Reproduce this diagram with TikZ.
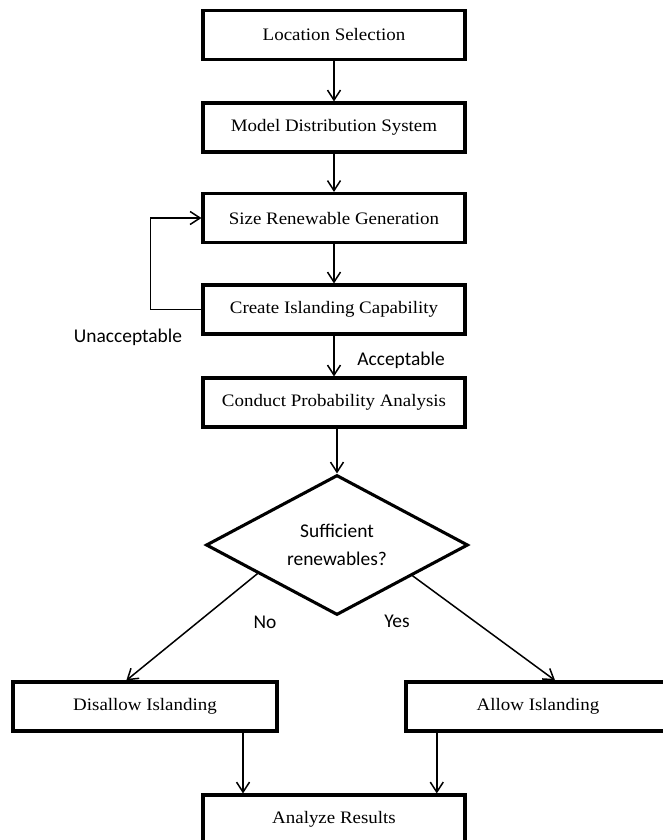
\documentclass[tikz,border=0pt]{standalone}
\usepackage{fontspec}
\setmainfont{Liberation Serif}[FakeStretch=1.08]
\newfontfamily\lblfont{Carlito}
\usetikzlibrary{arrows.meta,shapes.geometric,calc}
\begin{document}
\begin{tikzpicture}[x=1bp,y=-1bp,
  stepbox/.style={draw,line width=3.1bp,minimum width=262bp,minimum height=49bp,inner sep=0pt,
    font=\fontsize{17.6}{20}\selectfont},
  sidebox/.style={stepbox,minimum width=264bp},
  decide/.style={draw,diamond,line width=3.1bp,shape aspect=1.87,minimum width=262bp,minimum height=140bp,
    inner sep=0pt,align=center,font=\lblfont\fontsize{19.5}{28}\selectfont},
  arr/.style={line width=1.5bp,-{Straight Barb[length=10bp,width=13bp,line width=1.5bp]}},
  lbl/.style={font=\lblfont\fontsize{19.5}{22}\selectfont,inner sep=0pt}]
  \useasboundingbox[fill=white] (0,0) rectangle (663,840);

  % main column
  \node[stepbox] (loc)  at (334,35)    {Location Selection};
  \node[stepbox] (mod)  at (334,127.5) {Model Distribution System};
  \node[stepbox] (size) at (334,218)   {Size Renewable Generation};
  \node[stepbox] (isl)  at (334,309.5) {Create Islanding Capability};
  \node[stepbox] (cond) at (334,402.5) {Conduct Probability Analysis};
  \node[decide]  (dia)  at (337,545)   {Sufficient\\renewables?};

  % outcome boxes
  \node[sidebox] (dis)  at (145,706.5) {Disallow Islanding};
  \node[sidebox] (alw)  at (538,706.5) {Allow Islanding};
  \node[stepbox] (res)  at (334,819.5) {Analyze Results};

  % straight connectors
  \draw[arr] (loc) -- (mod);
  \draw[arr] (mod) -- (size);
  \draw[arr] (size) -- (isl);
  \draw[arr] (isl) -- (cond);
  \draw[arr] (dia.north |- cond.south) -- (dia.north);

  % feedback loop
  \draw[arr] (isl.west) -- ++(-51,0) |- (size.west);

  % branches out of the decision
  \coordinate (noStart)  at ($(dia.west)!0.4!(dia.south)$);
  \coordinate (yesStart) at ($(dia.east)!0.43!(dia.south)$);
  \coordinate (noEnd)    at ($(dis.north west)!0.43!(dis.north east)$);
  \coordinate (yesEnd)   at ($(alw.north west)!0.564!(alw.north east)$);
  \draw[arr] (noStart) -- (noEnd);
  \draw[arr] (yesStart) -- (yesEnd);

  % into the results box
  \coordinate (disOut) at ($(dis.south west)!0.867!(dis.south east)$);
  \coordinate (alwOut) at ($(alw.south west)!0.121!(alw.south east)$);
  \draw[arr] (disOut) -- (disOut |- res.north);
  \draw[arr] (alwOut) -- (alwOut |- res.north);

  % labels
  \node[lbl] (unacc) at (128,337) {Unacceptable};
  \node[lbl] (acc)   at (401,360) {Acceptable};
  \node[lbl] (no)    at (265,622) {No};
  \node[lbl] (yes)   at (397,621) {Yes};
\end{tikzpicture}
\end{document}
